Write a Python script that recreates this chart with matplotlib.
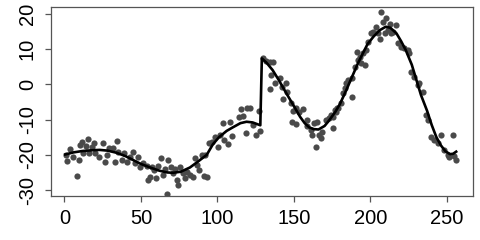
import matplotlib.pyplot as plt
import numpy as np

plt.rcParams['font.family'] = ['Liberation Sans', 'DejaVu Sans']
plt.rcParams['axes.unicode_minus'] = False

pts_x = np.array([
    1.1, 1.9, 3.3, 5.5, 8.1, 9.2, 10.2, 11.3, 12.4, 14.2, 15.7, 16.3, 17.9, 19.0, 20.0,
    22.9, 25.1, 26.6, 28.1, 29.4, 31.6, 33.1, 34.2, 35.3, 37.4, 39.0, 40.7, 42.9, 44.6,
    46.1, 48.3, 49.4, 51.6, 53.8, 54.8, 55.9, 57.0, 58.5, 59.8, 61.4, 63.1, 64.2, 65.7,
    67.3, 67.9, 69.4, 71.2, 72.3, 73.3, 74.4, 75.5, 77.3, 78.8, 80.3, 82.0, 83.8, 85.3,
    86.4, 88.1, 89.6, 91.2, 92.9, 94.7,
    91.8, 96.2, 98.4, 100.6, 101.7, 103.8, 104.3, 107.1, 108.2, 109.3, 114.3, 115.1,
    116.9, 119.1, 121.2, 118.7, 123.4, 125.1, 127.3, 127.7, 129.9, 131.6, 134.2, 136.4,
    135.3, 137.5, 134.2, 140.8, 142.5, 144.7, 145.6, 143.0, 147.8, 149.5, 151.0, 153.2,
    156.1, 148.8, 151.0, 158.3, 158.7, 160.9, 163.1, 165.3, 162.0, 164.2, 166.4, 167.5,
    168.6, 170.8, 173.0, 175.2, 177.4, 178.5,
    174.5, 175.2, 176.7, 178.2, 181.0, 182.1, 184.3, 183.2, 185.4, 188.2, 187.6, 189.8,
    190.9, 192.0, 193.0, 194.1, 195.2, 196.3, 197.3, 198.4, 200.6, 201.7, 203.8, 204.9,
    206.0, 207.1, 208.2, 209.3, 210.3, 211.4, 212.5, 213.6, 214.6, 216.8, 217.9, 220.1,
    222.2, 224.4, 225.4, 226.5, 228.7, 230.9, 232.0, 234.1, 236.3, 237.4, 239.6, 241.7,
    243.9, 246.1, 248.3, 250.4, 251.5, 253.7, 254.8, 256.0,
])
pts_y = np.array([
    -20.1, -21.7, -18.4, -20.5, -26.0, -21.5, -17.2, -16.3, -19.6, -17.5, -15.6, -19.6,
    -17.7, -16.7, -19.4, -20.5, -16.6, -22.0, -20.1, -18.2, -18.2, -22.0, -16.1, -19.1,
    -21.5, -19.6, -22.0, -20.5, -19.1, -22.2, -20.5, -23.4, -22.2, -23.2, -27.2, -26.4,
    -23.4, -24.3, -26.7, -23.2, -21.0, -25.7, -23.9, -31.2, -21.5, -23.4, -25.3, -23.9,
    -27.2, -28.6, -23.6, -25.3, -26.7, -24.8, -25.7, -26.4, -21.0, -22.9, -24.3, -20.1,
    -26.0, -26.4, -16.6,
    -20.1, -16.3, -14.9, -17.7, -14.4, -10.9, -15.8, -16.9, -10.6, -14.7, -9.2, -7.1,
    -9.0, -6.8, -6.8, -13.7, -11.5, -14.3, -7.5, -13.1, 7.4, 6.8, 6.5, 6.3,
    2.7, 0.3, -1.4, 1.7, -0.6, 0.3, -2.1, -4.0, -5.4, -7.5, -6.8, -7.7,
    -7.1, -10.6, -11.1, -11.8, -10.1, -12.9, -10.9, -10.6, -14.4, -17.7, -14.4, -15.3,
    -13.4, -10.1, -9.6, -9.2, -7.7, -6.8,
    -8.7, -12.5, -7.3, -6.8, -5.4, -2.5, 0.3, -1.1, 1.3, -3.5, 1.7, 5.0,
    9.3, 6.9, 7.9, 6.0, 8.8, 5.5, 9.8, 12.1, 14.5, 15.0, 16.4, 14.5,
    12.8, 20.7, 17.8, 14.5, 18.8, 15.4, 17.3, 14.5, 15.0, 16.9, 11.7, 10.7,
    10.3, 9.8, 8.8, 3.6, 2.2, -0.2, 0.3, -2.1, -8.7, -10.1, -14.9, -15.8,
    -16.6, -14.4, -18.6, -20.0, -20.5, -14.4, -20.3, -21.5,
])

# fitted curve
fit_x = np.array([
    0.5, 6, 12, 18, 23, 28, 34, 40, 45, 50, 56, 62, 67, 71, 76, 82, 87, 93, 97, 101,
    106, 110, 115, 119, 123, 128, 129, 132, 136, 140, 145, 150, 154, 157, 160, 163,
    166, 170, 173, 177, 180, 184, 188, 192, 195, 198, 202, 206, 210, 213, 217, 220,
    223, 227, 230, 233, 237, 240, 243, 246, 249, 252, 254, 256,
])
fit_y = np.array([
    -19.9, -19.3, -18.9, -18.7, -18.6, -18.8, -19.4, -20.4, -21.5, -22.6, -23.6, -24.5,
    -25.0, -25.1, -24.8, -23.6, -22.0, -20.0, -17.0, -15.0, -13.2, -12.2, -11.0, -10.6,
    -10.8, -11.6, 7.4, 6.2, 4.1, 1.3, -2.5, -6.2, -9.2, -11.0, -12.2, -12.7, -12.8,
    -11.8, -10.2, -7.8, -5.6, -1.8, 2.2, 6.2, 8.8, 11.4, 13.6, 15.4, 16.4, 16.1, 14.5,
    12.3, 9.8, 5.6, 1.3, -3.0, -7.5, -11.5, -14.9, -17.3, -19.0, -19.8, -19.7, -19.1,
])

fig = plt.figure(figsize=(4.8, 2.4), dpi=100)
ax = fig.add_axes([0.1056, 0.1833, 0.8798, 0.7875])

ax.scatter(pts_x, pts_y, s=20, color='#4a4a4a', linewidths=0, zorder=2)
ax.plot(fit_x, fit_y, color='black', lw=1.9, zorder=3)

ax.set_xlim(-9, 267)
ax.set_ylim(-31.7, 22.0)
ax.set_xticks([0, 50, 100, 150, 200, 250])
ax.set_yticks([-30, -20, -10, 0, 10, 20])

for s in ax.spines.values():
    s.set_color('#555555')
    s.set_linewidth(0.9)

ax.tick_params(length=4, width=0.9, color='#555555', labelsize=14.5, labelcolor='black')
ax.tick_params(axis='x', pad=5)
ax.tick_params(axis='y', pad=6)
for lab in ax.get_yticklabels():
    lab.set_rotation(90)
    lab.set_va('center')

plt.savefig('out.png', dpi=100)
